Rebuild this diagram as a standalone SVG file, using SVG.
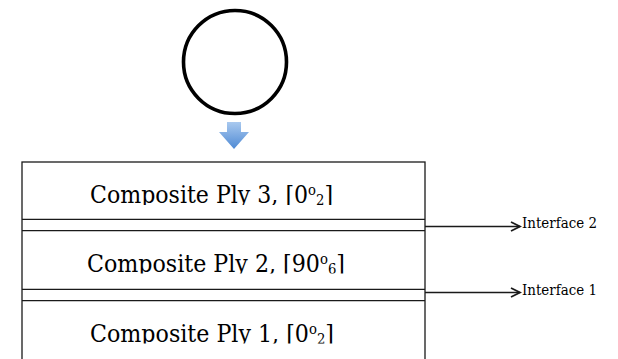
<svg xmlns="http://www.w3.org/2000/svg" width="618" height="359" viewBox="0 0 618 359">
<defs>
<style>
.ln{stroke:#1a1a1a;stroke-width:1.3;fill:none}
.ply{font-family:"DejaVu Serif","Liberation Serif",serif;font-size:23.5px;fill:#000}
.lbl{font-family:"DejaVu Serif","Liberation Serif",serif;font-size:15.5px;fill:#000}
.sm{font-size:14px}
</style>
<linearGradient id="blue" x1="0" y1="0" x2="0" y2="1">
<stop offset="0" stop-color="#a9c9ef"/>
<stop offset="1" stop-color="#4f8ad4"/>
</linearGradient>
<marker id="arr" markerWidth="12" markerHeight="12" refX="10" refY="6" orient="auto" markerUnits="userSpaceOnUse">
<path d="M1,1.5 L10,6 L1,10.5" fill="none" stroke="#1a1a1a" stroke-width="1.8"/>
</marker>
<clipPath id="c3"><rect x="22" y="162" width="403" height="43"/></clipPath>
<clipPath id="c2"><rect x="22" y="231" width="403" height="42.5"/></clipPath>
<clipPath id="c1"><rect x="22" y="301" width="403" height="42.5"/></clipPath>
</defs>

<g id="circle">
<circle cx="235" cy="62" r="51.5" fill="none" stroke="#000" stroke-width="3.6"/>
</g>

<g id="down-arrow">
<path d="M227,122 H241 V132 H249 L234,149 L219,132 H227 Z" fill="url(#blue)"/>
</g>

<g id="laminate">
<rect class="ln" x="22" y="162" width="403" height="210"/>
<line class="ln" x1="22" y1="219.3" x2="425" y2="219.3"/>
<line class="ln" x1="22" y1="230.7" x2="425" y2="230.7"/>
<line class="ln" x1="22" y1="289.3" x2="425" y2="289.3"/>
<line class="ln" x1="22" y1="300.7" x2="425" y2="300.7"/>
</g>

<g id="ply3" clip-path="url(#c3)">
<text class="ply" x="90" y="203" textLength="243" lengthAdjust="spacingAndGlyphs">Composite Ply 3, [0<tspan class="sm" dy="-8">o</tspan><tspan class="sm" dy="10">2</tspan><tspan dy="-2">]</tspan></text>
</g>

<g id="ply2" clip-path="url(#c2)">
<text class="ply" x="87" y="272" textLength="258" lengthAdjust="spacingAndGlyphs">Composite Ply 2, [90<tspan class="sm" dy="-8">o</tspan><tspan class="sm" dy="10">6</tspan><tspan dy="-2">]</tspan></text>
</g>

<g id="ply1" clip-path="url(#c1)">
<text class="ply" x="90" y="342" textLength="244" lengthAdjust="spacingAndGlyphs">Composite Ply 1, [0<tspan class="sm" dy="-8">o</tspan><tspan class="sm" dy="10">2</tspan><tspan dy="-2">]</tspan></text>
</g>

<g id="connectors">
<line class="ln" x1="425" y1="226.5" x2="520" y2="226.5" stroke-width="1.6" marker-end="url(#arr)"/>
<line class="ln" x1="425" y1="292.5" x2="520" y2="292.5" stroke-width="1.6" marker-end="url(#arr)"/>
</g>

<g id="interface2">
<text class="lbl" x="522" y="227.5" textLength="75" lengthAdjust="spacingAndGlyphs">Interface 2</text>
</g>
<g id="interface1">
<text class="lbl" x="522" y="294.5" textLength="75" lengthAdjust="spacingAndGlyphs">Interface 1</text>
</g>
</svg>
